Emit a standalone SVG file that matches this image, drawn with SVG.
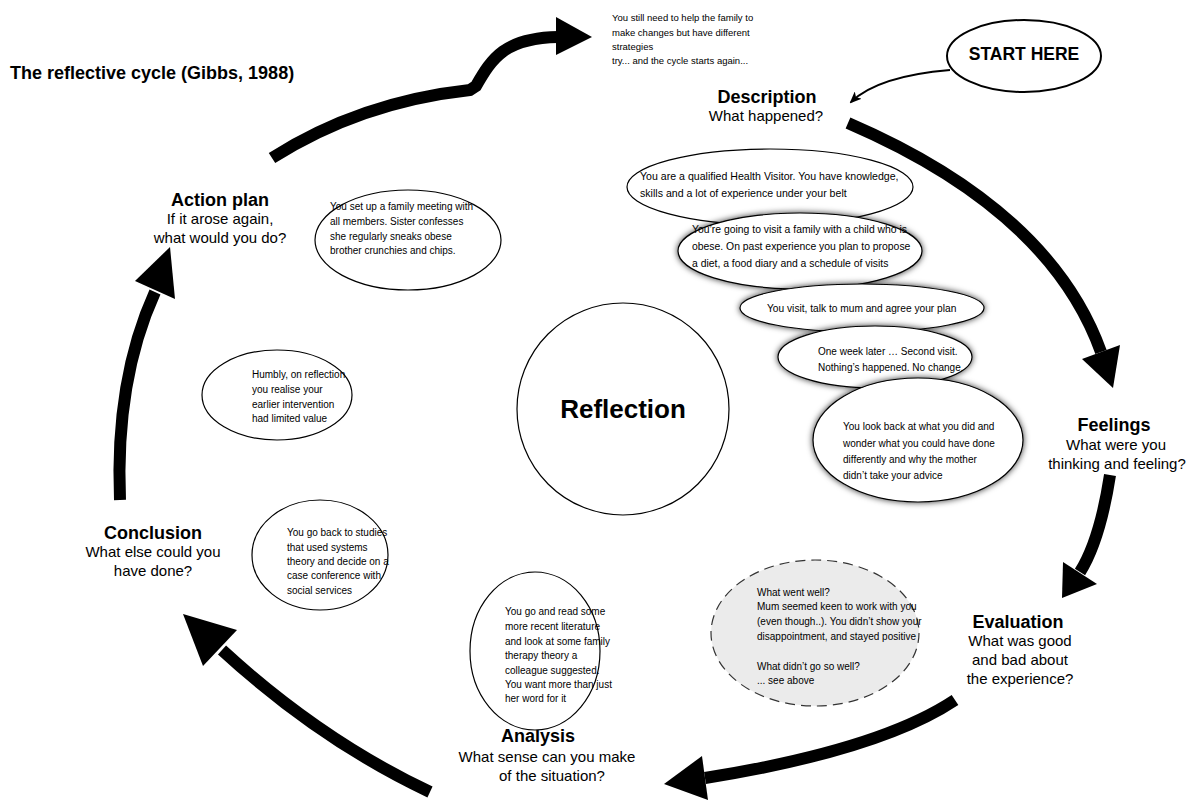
<svg xmlns="http://www.w3.org/2000/svg" width="1188" height="808" viewBox="0 0 1188 808">
<defs>
<style>
text{font-family:"Liberation Sans",Arial,sans-serif;fill:#000}
.t{font-weight:bold;font-size:18px;text-anchor:middle}
.s{font-size:15px;text-anchor:middle}
.n{font-size:10px}
.e{fill:#fff;stroke:#000;stroke-width:1.2}
.big{fill:none;stroke:#000;stroke-width:12}
.head{fill:#000}
</style>
<filter id="sh" x="-20%" y="-30%" width="140%" height="160%">
<feDropShadow dx="0" dy="0" stdDeviation="3" flood-color="#000" flood-opacity="0.8"/>
</filter>
<marker id="thin" markerWidth="12" markerHeight="10" refX="10" refY="5" orient="auto" markerUnits="userSpaceOnUse">
<path d="M0,0 L12,5 L0,10 L3,5 Z" fill="#000"/>
</marker>
</defs>
<rect width="1188" height="808" fill="#fff"/>

<text x="10" y="79" style="font-weight:bold;font-size:18px">The reflective cycle (Gibbs, 1988)</text>

<g id="note-top">
<text class="n" x="612" y="21" style="font-size:9.5px">You still need to help the family to</text>
<text class="n" x="612" y="36" style="font-size:9.5px">make changes but have different</text>
<text class="n" x="612" y="50" style="font-size:9.5px">strategies</text>
<text class="n" x="612" y="64" style="font-size:9.5px">try... and the cycle starts again...</text>
</g>

<g id="connectors">
<path class="big" d="M272,158 Q360,102 470,90 L476,86 C492,58 505,38 558,37"/>
<polygon class="head" points="556,17 592,37 556,55"/>
<path class="big" d="M848,123 Q1050,210 1101,352"/>
<polygon class="head" points="1120,345 1113,388 1082,359"/>
<path class="big" d="M1110,475 Q1100,540 1080,572"/>
<polygon class="head" points="1097,584 1062,598 1063,562"/>
<path class="big" d="M955,700 Q880,750 705,778"/>
<polygon class="head" points="708,800 664,784 702,756"/>
<path class="big" d="M430,792 Q320,740 222,650"/>
<polygon class="head" points="237,630 183,614 203,666"/>
<path class="big" d="M120,500 Q115,380 155,292"/>
<polygon class="head" points="175,299 170,247 135,281"/>
<path d="M950,70 Q878,76 851,102" fill="none" stroke="#000" stroke-width="2" marker-end="url(#thin)"/>
</g>

<g id="start">
<ellipse class="e" cx="1024" cy="56" rx="77" ry="36" style="stroke-width:2"/>
<text x="1024" y="60" style="font-weight:bold;font-size:17.5px;text-anchor:middle">START HERE</text>
</g>

<g id="description">
<text class="t" x="767" y="103">Description</text>
<text class="s" x="766" y="121">What happened?</text>
</g>
<g id="feelings">
<text class="t" x="1114" y="431">Feelings</text>
<text class="s" x="1116" y="450">What were you</text>
<text class="s" x="1117" y="469">thinking and feeling?</text>
</g>
<g id="evaluation">
<text class="t" x="1018" y="628">Evaluation</text>
<text class="s" x="1020" y="646">What was good</text>
<text class="s" x="1020" y="665">and bad about</text>
<text class="s" x="1020" y="684">the experience?</text>
</g>
<g id="analysis">
<text class="t" x="538" y="742">Analysis</text>
<text class="s" x="547" y="762">What sense can you make</text>
<text class="s" x="552" y="781">of the situation?</text>
</g>
<g id="conclusion">
<text class="t" x="153" y="539">Conclusion</text>
<text class="s" x="153" y="557">What else could you</text>
<text class="s" x="153" y="576">have done?</text>
</g>
<g id="action-plan">
<text class="t" x="220" y="206">Action plan</text>
<text class="s" x="220" y="224">If it arose again,</text>
<text class="s" x="220" y="243">what would you do?</text>
</g>

<g id="d1">
<ellipse class="e" cx="770" cy="187" rx="143" ry="38"/>
<text class="n" x="640" y="180" style="font-size:10.6px">You are a qualified Health Visitor. You have knowledge,</text>
<text class="n" x="640" y="197" style="font-size:10.6px">skills and a lot of experience under your belt</text>
</g>
<g id="d2">
<ellipse class="e" cx="800" cy="251" rx="122" ry="38" filter="url(#sh)"/>
<text class="n" x="692" y="233" style="font-size:10.4px">You’re going to visit a family with a child who is</text>
<text class="n" x="692" y="250" style="font-size:10.4px">obese. On past experience you plan to propose</text>
<text class="n" x="692" y="267" style="font-size:10.4px">a diet, a food diary and a schedule of visits</text>
</g>
<g id="d3">
<ellipse class="e" cx="862" cy="308" rx="122" ry="24" filter="url(#sh)"/>
<text class="n" x="767" y="312" style="font-size:10.2px">You visit, talk to mum and agree your plan</text>
</g>
<g id="d4">
<ellipse class="e" cx="875" cy="357" rx="97" ry="31" filter="url(#sh)"/>
<text class="n" x="818" y="355">One week later …  Second visit.</text>
<text class="n" x="818" y="371">Nothing’s happened.  No change.</text>
</g>
<g id="d5">
<ellipse class="e" cx="918" cy="440" rx="105" ry="62" filter="url(#sh)"/>
<text class="n" x="843" y="430">You look back at what you did and</text>
<text class="n" x="843" y="447">wonder what you could have done</text>
<text class="n" x="843" y="463">differently and why the mother</text>
<text class="n" x="843" y="479">didn’t take your advice</text>
</g>

<g id="reflection">
<ellipse class="e" cx="623" cy="409" rx="106" ry="106"/>
<text x="623" y="418" style="font-weight:bold;font-size:26px;text-anchor:middle">Reflection</text>
</g>

<g id="n-action">
<ellipse class="e" cx="408" cy="240" rx="93" ry="50"/>
<text class="n" x="330" y="210">You set up a family meeting with</text>
<text class="n" x="330" y="225">all members. Sister confesses</text>
<text class="n" x="330" y="240">she regularly sneaks obese</text>
<text class="n" x="330" y="254">brother crunchies and chips.</text>
</g>
<g id="n-humbly">
<ellipse class="e" cx="277" cy="395" rx="75" ry="45"/>
<text class="n" x="252" y="378">Humbly, on reflection</text>
<text class="n" x="252" y="393">you realise your</text>
<text class="n" x="252" y="408">earlier intervention</text>
<text class="n" x="252" y="422">had limited value</text>
</g>
<g id="n-conclusion">
<ellipse class="e" cx="320" cy="555" rx="68" ry="55"/>
<text class="n" x="287" y="536">You go back to studies</text>
<text class="n" x="287" y="551">that used systems</text>
<text class="n" x="287" y="565">theory and decide on a</text>
<text class="n" x="287" y="579">case conference with</text>
<text class="n" x="287" y="594">social services</text>
</g>
<g id="n-analysis">
<ellipse class="e" cx="535" cy="651" rx="65" ry="79"/>
<text class="n" x="505" y="615">You go and read some</text>
<text class="n" x="505" y="630">more recent literature</text>
<text class="n" x="505" y="645">and look at some family</text>
<text class="n" x="505" y="659">therapy theory a</text>
<text class="n" x="505" y="674">colleague suggested.</text>
<text class="n" x="505" y="688">You want more than just</text>
<text class="n" x="505" y="702">her word for it</text>
</g>
<g id="n-evaluation">
<ellipse cx="815" cy="633" rx="104" ry="73" fill="#ebebeb" stroke="#333" stroke-width="1.2" stroke-dasharray="10,6"/>
<text class="n" x="757" y="596">What went well?</text>
<text class="n" x="757" y="610">Mum seemed keen to work with you</text>
<text class="n" x="757" y="625">(even though..). You didn’t show your</text>
<text class="n" x="757" y="640">disappointment, and stayed positive</text>
<text class="n" x="757" y="670">What didn’t go so well?</text>
<text class="n" x="757" y="684">... see above</text>
</g>
</svg>
